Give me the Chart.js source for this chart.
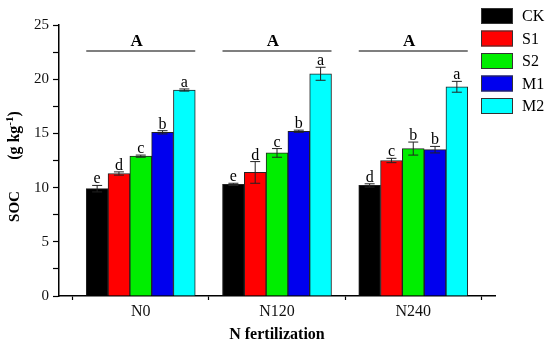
<!DOCTYPE html>
<html>
<head>
<meta charset="utf-8">
<script src="https://cdn.jsdelivr.net/npm/chart.js@4/dist/chart.umd.min.js"></script>
<style>
  html, body { margin: 0; padding: 0; background: #fff; }
  #wrap { width: 550px; height: 348px; position: relative; }
</style>
</head>
<body>
<div id="wrap"><canvas id="myChart"></canvas></div>
<script>
const groups = ['N0', 'N120', 'N240'];
const treatments = ['CK', 'S1', 'S2', 'M1', 'M2'];
const colors = ['#000000', '#ff0000', '#00ee00', '#0000ee', '#00ffff'];

// SOC values per treatment, one value per group
const ck = [9.9, 10.3, 10.2];
const s1 = [11.3, 11.4, 12.5];
const s2 = [12.9, 13.2, 13.6];
const m1 = [15.1, 15.2, 13.5];
const m2 = [19.0, 20.5, 19.3];

const ckErr = [0.3, 0.1, 0.15];
const s1Err = [0.15, 1.0, 0.2];
const s2Err = [0.1, 0.4, 0.6];
const m1Err = [0.15, 0.1, 0.3];
const m2Err = [0.1, 0.6, 0.5];

const ckLetters = ['e', 'e', 'd'];
const s1Letters = ['d', 'd', 'c'];
const s2Letters = ['c', 'c', 'b'];
const m1Letters = ['b', 'b', 'b'];
const m2Letters = ['a', 'a', 'a'];

const groupLetters = ['A', 'A', 'A'];
const groupLineValue = 22.6;

const yTicks = [0, 2.5, 5, 7.5, 10, 12.5, 15, 17.5, 20, 22.5, 25];

const values = [ck, s1, s2, m1, m2];
const errors = [ckErr, s1Err, s2Err, m1Err, m2Err];
const letters = [ckLetters, s1Letters, s2Letters, m1Letters, m2Letters];

const serif = '"Liberation Serif", "DejaVu Serif", serif';

const datasets = treatments.map((t, k) => ({
    label: t,
    data: groups.map((g, i) => ({ x: i, y: values[k][i] })),
    backgroundColor: colors[k],
    borderColor: '#222',
    borderWidth: 1,
    barThickness: 21.8
}));

// error bars + significance letters
const errorBars = {
    id: 'errorBars',
    afterDatasetsDraw(chart) {
        const ctx = chart.ctx;
        const y = chart.scales.y;
        ctx.save();
        ctx.strokeStyle = '#222';
        ctx.lineWidth = 1;
        ctx.fillStyle = '#000';
        ctx.font = '16px ' + serif;
        ctx.textAlign = 'center';
        ctx.textBaseline = 'alphabetic';
        chart.data.datasets.forEach((ds, k) => {
            const meta = chart.getDatasetMeta(k);
            meta.data.forEach((bar, i) => {
                const v = values[k][i];
                const e = errors[k][i];
                const top = y.getPixelForValue(v + e);
                const bot = y.getPixelForValue(v - e);
                ctx.beginPath();
                ctx.moveTo(bar.x, top); ctx.lineTo(bar.x, bot);
                ctx.moveTo(bar.x - 5, top); ctx.lineTo(bar.x + 5, top);
                ctx.moveTo(bar.x - 5, bot); ctx.lineTo(bar.x + 5, bot);
                ctx.stroke();
                ctx.fillText(letters[k][i], bar.x, top - 2);
            });
        });

        // group lines with "A"
        const first = chart.getDatasetMeta(0).data;
        const last = chart.getDatasetMeta(chart.data.datasets.length - 1).data;
        const ly = y.getPixelForValue(groupLineValue);
        ctx.lineWidth = 1.2;
        ctx.strokeStyle = '#000';
        ctx.font = 'bold 17px ' + serif;
        groups.forEach((g, i) => {
            const x0 = first[i].x - first[i].width / 2;
            const x1 = last[i].x + last[i].width / 2;
            ctx.beginPath();
            ctx.moveTo(x0, ly); ctx.lineTo(x1, ly);
            ctx.stroke();
            ctx.fillText(groupLetters[i], (x0 + x1) / 2 - 4, ly - 5);
        });
        ctx.restore();
    }
};

// legend and y title drawn by hand
const extras = {
    id: 'extras',
    afterDraw(chart) {
        const ctx = chart.ctx;
        ctx.save();
        ctx.textBaseline = 'middle';
        ctx.textAlign = 'left';
        ctx.font = '16px ' + serif;
        chart.data.datasets.forEach((ds, k) => {
            const cy = 16 + k * 22.5;
            ctx.fillStyle = ds.backgroundColor;
            ctx.fillRect(481, cy - 8, 32, 16);
            ctx.strokeStyle = '#333';
            ctx.lineWidth = 1;
            ctx.strokeRect(481.5, cy - 7.5, 31, 15);
            ctx.fillStyle = '#000';
            ctx.fillText(ds.label, 522, cy + 1);
        });

        // y title: SOC  (g kg-1)
        ctx.translate(15, 0);
        ctx.rotate(-Math.PI / 2);
        ctx.fillStyle = '#000';
        ctx.textBaseline = 'middle';
        ctx.textAlign = 'center';
        ctx.font = 'bold 15px ' + serif;
        ctx.fillText('SOC', -206.5, 0);
        const big = 'bold 16px ' + serif;
        const sup = 'bold 11px ' + serif;
        const parts = [['(g kg', big, 0], ['-1', sup, -5], [')', big, 0]];
        let total = 0;
        parts.forEach(p => { ctx.font = p[1]; total += ctx.measureText(p[0]).width; });
        let x = -135.5 - total / 2;
        ctx.textAlign = 'left';
        parts.forEach(p => {
            ctx.font = p[1];
            ctx.fillText(p[0], x, p[2]);
            x += ctx.measureText(p[0]).width;
        });
        ctx.restore();
    }
};

const ctx = document.getElementById('myChart').getContext('2d');

new Chart(ctx, {
    type: 'bar',
    data: { datasets: datasets },
    options: {
        responsive: true,
        maintainAspectRatio: false,
        animation: false,
        layout: { padding: { top: 25, right: 55, left: 0, bottom: 0 } },
        plugins: {
            legend: { display: false },
            tooltip: { enabled: false }
        },
        scales: {
            x: {
                type: 'linear',
                min: -0.6,
                max: 2.6,
                offset: false,
                afterBuildTicks(scale) {
                    scale.ticks = [-0.5, 0, 0.5, 1, 1.5, 2, 2.5].map(v => ({ value: v }));
                },
                afterFit(scale) { scale.height = 52; },
                grid: {
                    offset: false,
                    drawOnChartArea: false,
                    tickLength: 4,
                    tickWidth: 1.2,
                    tickColor: c => (c.tick && Number.isInteger(c.tick.value)) ? 'rgba(0,0,0,0)' : '#000'
                },
                border: { color: '#000', width: 1.5 },
                ticks: {
                    autoSkip: false,
                    maxRotation: 0,
                    padding: 2,
                    color: '#111',
                    font: { family: serif, size: 16 },
                    callback: v => Number.isInteger(v) ? groups[v] : ''
                },
                title: {
                    display: true,
                    text: 'N fertilization',
                    color: '#000',
                    font: { family: serif, size: 16, weight: 'bold' },
                    padding: { top: 0, bottom: 4 }
                }
            },
            y: {
                min: 0,
                max: 25,
                afterBuildTicks(scale) {
                    scale.ticks = yTicks.map(v => ({ value: v }));
                },
                afterFit(scale) { scale.width = 59; },
                grid: {
                    drawOnChartArea: false,
                    tickLength: 6,
                    tickWidth: 1.2,
                    tickColor: '#000'
                },
                border: { color: '#000', width: 1.5 },
                ticks: {
                    padding: 4,
                    color: '#111',
                    font: { family: serif, size: 15 },
                    callback: v => (v % 5 === 0) ? v : ''
                }
            }
        }
    },
    plugins: [errorBars, extras]
});
</script>
</body>
</html>
